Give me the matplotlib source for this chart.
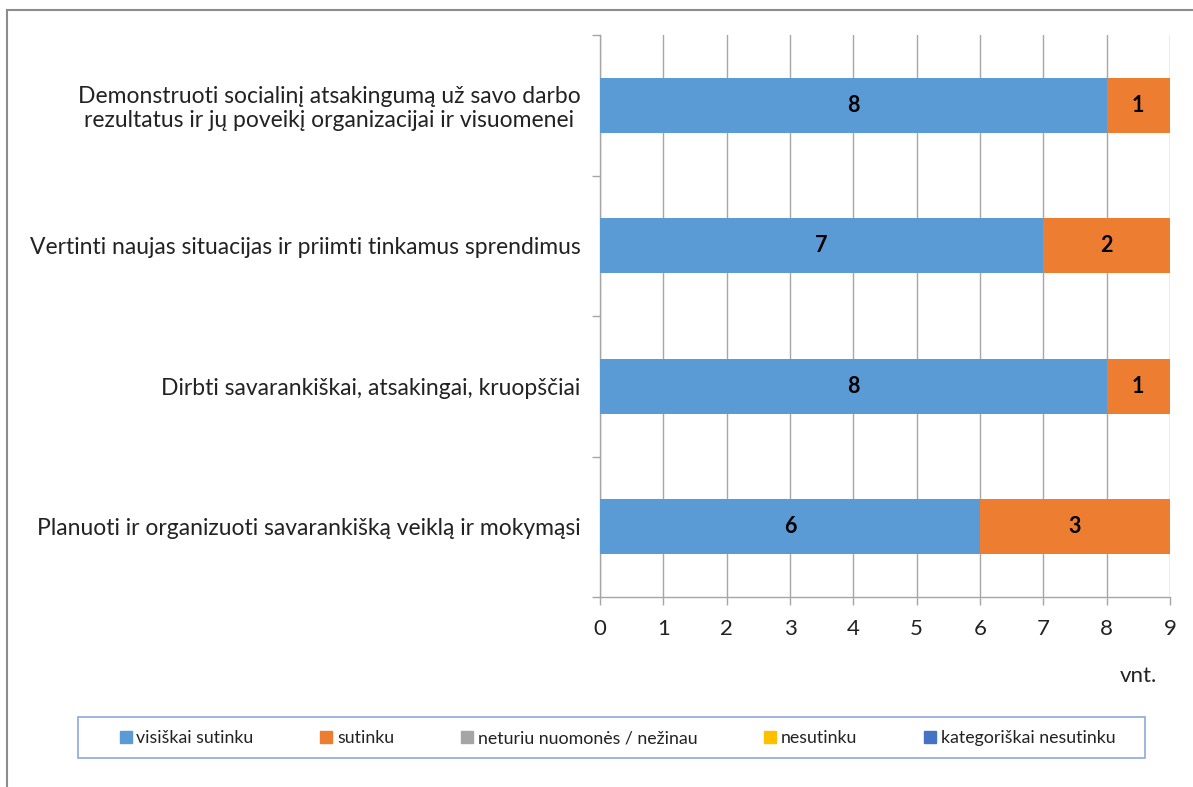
import matplotlib.pyplot as plt
from matplotlib.lines import Line2D
from matplotlib.patches import Rectangle
import numpy as np

plt.rcParams['font.family'] = ['Lato', 'DejaVu Sans']

# kategorijos (iš apačios į viršų)
kategorijos = [
    "Planuoti ir organizuoti savarankišką veiklą ir mokymąsi",
    "Dirbti savarankiškai, atsakingai, kruopščiai",
    "Vertinti naujas situacijas ir priimti tinkamus sprendimus",
    "Demonstruoti socialinį atsakingumą už savo darbo\nrezultatus ir jų poveikį organizacijai ir visuomenei",
]
visiskai_sutinku = [6, 8, 7, 8]
sutinku = [3, 1, 2, 1]
neturiu_nuomones = [0, 0, 0, 0]
nesutinku = [0, 0, 0, 0]
kategoriskai_nesutinku = [0, 0, 0, 0]

serijos = ["visiškai sutinku", "sutinku", "neturiu nuomonės / nežinau",
           "nesutinku", "kategoriškai nesutinku"]
spalvos = ["#5B9BD5", "#ED7D31", "#A5A5A5", "#FFC000", "#4472C4"]
reiksmes = [visiskai_sutinku, sutinku, neturiu_nuomones, nesutinku,
            kategoriskai_nesutinku]

W, H = 1193, 787
fig = plt.figure(figsize=(W / 100, H / 100), dpi=100)
ax = fig.add_axes([600 / W, 1 - 597 / H, 570 / W, 562 / H])

y = np.arange(len(kategorijos))
kaire = np.zeros(len(kategorijos))
for vardas, spalva, vals in zip(serijos, spalvos, reiksmes):
    vals = np.array(vals, dtype=float)
    ax.barh(y, vals, left=kaire, height=0.39, color=spalva, zorder=3)
    for yi, l, v in zip(y, kaire, vals):
        if v > 0:
            ax.text(l + v / 2, yi, f"{int(v)}", ha="center", va="center",
                    fontsize=15.5, fontweight="bold", color="black", zorder=4)
    kaire += vals

ax.set_xlim(0, 9)
ax.set_ylim(-0.5, len(kategorijos) - 0.5)
ax.set_xticks(range(10))
ax.grid(axis="x", color="#A6A6A6", linewidth=1, zorder=0)

ax.set_yticks(y)
ax.set_yticklabels(kategorijos, fontsize=16.5, color="#222222",
                   multialignment="center", linespacing=1.15)
ax.set_yticks(np.arange(-0.5, len(kategorijos), 1), minor=True)
ax.tick_params(axis="y", which="major", length=0, pad=14)
ax.tick_params(axis="y", which="minor", length=6, color="#A6A6A6", width=1)
ax.tick_params(axis="x", length=6, color="#A6A6A6", width=1, labelsize=16,
               pad=10, labelcolor="#222222")

for s in ["top", "right"]:
    ax.spines[s].set_visible(False)
for s in ["left", "bottom"]:
    ax.spines[s].set_color("#A6A6A6")
    ax.spines[s].set_linewidth(1)

fig.text(1138 / W, 1 - 676 / H, "vnt.", fontsize=16, color="#222222",
         ha="center", va="center")

# legendos rėmelis
fig.add_artist(Rectangle((78 / W, 1 - 758 / H), 1067 / W, 41 / H,
                         transform=fig.transFigure, facecolor="white",
                         edgecolor="#8EAADB", linewidth=1.2, zorder=1))

# legenda
rankenos = [Line2D([0], [0], marker="s", linestyle="none", markersize=8.5,
                   markerfacecolor=c, markeredgecolor=c) for c in spalvos]
leg = fig.legend(rankenos, serijos, loc="center",
                 bbox_to_anchor=(617 / W, 1 - 738 / H), ncol=5,
                 fontsize=12.8, frameon=False,
                 handletextpad=0.2, columnspacing=3.7, handlelength=0.8)
leg.set_zorder(2)
for t in leg.get_texts():
    t.set_color("#222222")

# išorinis rėmelis
fig.add_artist(Line2D([7 / W, 7 / W], [0, 1 - 10 / H],
                      transform=fig.transFigure, color="#8C8C8C", linewidth=1.5))
fig.add_artist(Line2D([7 / W, 1], [1 - 10 / H, 1 - 10 / H],
                      transform=fig.transFigure, color="#8C8C8C", linewidth=1.5))

fig.savefig("out.png", dpi=100)
